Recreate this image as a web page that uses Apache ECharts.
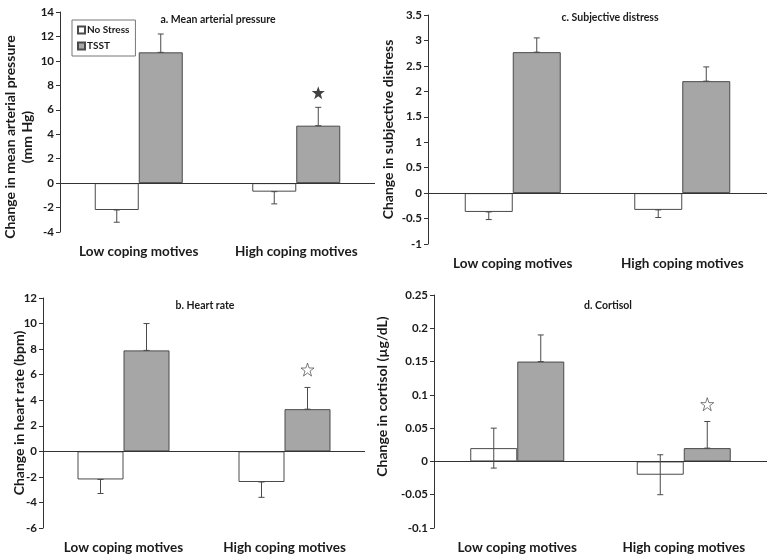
<!DOCTYPE html>
<html>
<head>
<meta charset="utf-8">
<script src="https://cdn.jsdelivr.net/npm/echarts@6/dist/echarts.min.js"></script>
<style>html,body{margin:0;padding:0;background:#fff}#c{width:770px;height:557px}</style>
</head>
<body>
<div id="c"></div>
<script>
const categories = ['Low coping motives', 'High coping motives'];
const seriesNames = ['No Stress', 'TSST'];

// a. Mean arterial pressure
const mapNoStress = [-2.2, -0.7];
const mapTSST = [10.7, 4.7];
const mapNoStressErr = [[-3.2, -2.2], [-1.7, -0.7]];
const mapTSSTErr = [[10.7, 12.2], [4.7, 6.2]];
const mapStar = [[1, 7.4]];
const mapTicks = [-4, 14, 2];

// b. Heart rate
const hrNoStress = [-2.2, -2.4];
const hrTSST = [7.9, 3.3];
const hrNoStressErr = [[-3.3, -2.2], [-3.6, -2.4]];
const hrTSSTErr = [[7.9, 10.0], [3.3, 5.0]];
const hrStar = [[1, 6.4]];
const hrTicks = [-6, 12, 2];

// c. Subjective distress
const sdNoStress = [-0.37, -0.33];
const sdTSST = [2.77, 2.2];
const sdNoStressErr = [[-0.52, -0.37], [-0.48, -0.33]];
const sdTSSTErr = [[2.77, 3.05], [2.2, 2.48]];
const sdTicks = [-1, 3.5, 0.5];

// d. Cortisol
const coNoStress = [0.02, -0.02];
const coTSST = [0.15, 0.02];
const coNoStressErr = [[-0.01, 0.05], [-0.05, 0.01]];
const coTSSTErr = [[0.15, 0.19], [0.02, 0.06]];
const coStar = [[1, 0.086]];
const coTicks = [-0.1, 0.25, 0.05];

const FONT = 'Lato';
const TXT = '#1a1a1a';
const EDGE = '#4a4a4a';
const GRAY = '#a6a6a6';
const STAR = 'path://M50,2 L61.8,36.3 L97.6,36.3 L68.6,57.7 L79.4,92 L50,71 L20.6,92 L31.4,57.7 L2.4,36.3 L38.2,36.3 Z';

const panels = [
  {title: 'a. Mean arterial pressure', titleX: 213, titleY: 9, grid: {left: 60, top: 12, width: 315, height: 220},
   yName: 'Change in mean arterial pressure\n(mm Hg)', nameGap: 24, namePad: [0, 30, 0, 0],
   ticks: mapTicks, ns: mapNoStress, ts: mapTSST, nsErr: mapNoStressErr, tsErr: mapTSSTErr, star: mapStar, filled: true, bw: 44},
  {title: 'c. Subjective distress', titleX: 605, titleY: 7, grid: {left: 428, top: 15, width: 339, height: 229},
   yName: 'Change in subjective distress', nameGap: 31, namePad: [0, 0, 0, 0],
   ticks: sdTicks, ns: sdNoStress, ts: sdTSST, nsErr: sdNoStressErr, tsErr: sdTSSTErr, star: null, bw: 48},
  {title: 'b. Heart rate', titleX: 200, titleY: 295, grid: {left: 43, top: 298, width: 322, height: 230},
   yName: 'Change in heart rate (bpm)', nameGap: 15, namePad: [0, 0, 0, 0],
   ticks: hrTicks, ns: hrNoStress, ts: hrTSST, nsErr: hrNoStressErr, tsErr: hrTSSTErr, star: hrStar, filled: false, bw: 46},
  {title: 'd. Cortisol', titleX: 603, titleY: 295, grid: {left: 434, top: 295, width: 333, height: 233},
   yName: 'Change in cortisol (\u00b5g/dL)', nameGap: 43, namePad: [0, 0, 0, 30],
   ticks: coTicks, ns: coNoStress, ts: coTSST, nsErr: coNoStressErr, tsErr: coTSSTErr, star: coStar, filled: false, bw: 47}
];

function errRender(offset) {
  return function (params, api) {
    const idx = api.value(0);
    const x = api.coord([idx, 0])[0] + offset;
    const y1 = api.coord([idx, api.value(1)])[1];
    const y2 = api.coord([idx, api.value(2)])[1];
    const st = {stroke: EDGE, lineWidth: 1};
    return {type: 'group', children: [
      {type: 'line', shape: {x1: x, y1: y1, x2: x, y2: y2}, style: st},
      {type: 'line', shape: {x1: x - 3, y1: y1, x2: x + 3, y2: y1}, style: st},
      {type: 'line', shape: {x1: x - 3, y1: y2, x2: x + 3, y2: y2}, style: st}
    ]};
  };
}

const option = {
  animation: false,
  backgroundColor: '#fff',
  textStyle: {fontFamily: FONT},
  title: [], grid: [], xAxis: [], yAxis: [], series: [],
  legend: {
    data: seriesNames, orient: 'vertical', left: 72, top: 20, icon: 'rect',
    itemWidth: 7, itemHeight: 7, itemGap: 6, padding: [5, 6, 5, 5],
    borderColor: '#777', borderWidth: 1,
    textStyle: {fontFamily: FONT, fontSize: 10, fontWeight: 'bold', color: TXT, padding: [0, 0, 0, -3]}
  }
};

panels.forEach((p, i) => {
  option.title.push({text: p.title, left: p.titleX, top: p.titleY, textAlign: 'center',
    textStyle: {fontFamily: FONT, fontSize: 10.5, fontWeight: 'bold', color: TXT}});
  option.grid.push(p.grid);
  option.xAxis.push({type: 'category', gridIndex: i, data: categories,
    axisLine: {show: false, onZero: false}, axisTick: {show: false},
    axisLabel: {interval: 0, hideOverlap: false, fontFamily: FONT, fontSize: 13.5, fontWeight: 'bold', color: TXT, margin: 13}});
  option.yAxis.push({type: 'value', gridIndex: i, min: p.ticks[0], max: p.ticks[1], interval: p.ticks[2],
    name: p.yName, nameLocation: 'middle', nameGap: p.nameGap, nameRotate: 90, nameMoveOverlap: false,
    nameTextStyle: {fontFamily: FONT, fontSize: 14, fontWeight: 'bold', color: TXT, lineHeight: 17, padding: p.namePad},
    axisLine: {show: true, lineStyle: {color: '#333', width: 1}},
    axisTick: {show: true, length: 4, lineStyle: {color: '#333'}},
    splitLine: {show: false},
    axisLabel: {fontFamily: FONT, fontSize: 11.5, fontWeight: 'bold', color: TXT, margin: 6}});
  const half = p.bw / 2;
  option.series.push({type: 'bar', name: 'No Stress', xAxisIndex: i, yAxisIndex: i, data: p.ns,
    barWidth: p.bw, barGap: '0%', itemStyle: {color: '#fff', borderColor: EDGE, borderWidth: 1},
    markLine: {silent: true, symbol: ['none', 'none'], label: {show: false},
      lineStyle: {color: '#333', width: 1, type: 'solid'}, data: [{yAxis: 0}]}});
  option.series.push({type: 'bar', name: 'TSST', xAxisIndex: i, yAxisIndex: i, data: p.ts,
    barWidth: p.bw, barGap: '0%', itemStyle: {color: GRAY, borderColor: EDGE, borderWidth: 1}});
  option.series.push({type: 'custom', name: 'errNS' + i, xAxisIndex: i, yAxisIndex: i, z: 5,
    renderItem: errRender(-half), data: p.nsErr.map((e, k) => [k, e[0], e[1]])});
  option.series.push({type: 'custom', name: 'errTS' + i, xAxisIndex: i, yAxisIndex: i, z: 5,
    renderItem: errRender(half), data: p.tsErr.map((e, k) => [k, e[0], e[1]])});
  if (p.star) {
    option.series.push({type: 'scatter', name: 'star' + i, xAxisIndex: i, yAxisIndex: i, data: p.star,
      symbol: STAR, symbolSize: 13, symbolOffset: [half, 0], z: 6,
      itemStyle: p.filled ? {color: '#111'} : {color: '#fff', borderColor: '#333', borderWidth: 0.8}});
  }
});

const chart = echarts.init(document.getElementById('c'), null, {renderer: 'canvas'});
chart.setOption(option);
</script>
</body>
</html>
